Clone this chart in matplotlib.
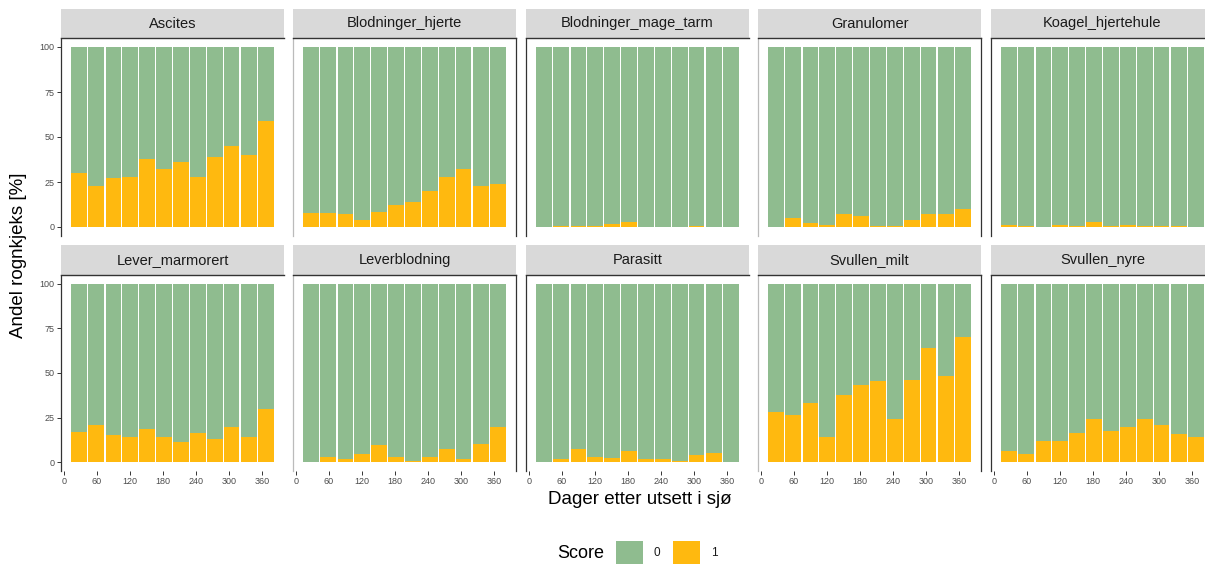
import matplotlib.pyplot as plt
from matplotlib.patches import Rectangle

plt.rcParams["font.family"] = ["Liberation Sans", "DejaVu Sans"]

# days after sea transfer (monthly samples)
days = [28, 59, 90, 120, 151, 182, 212, 243, 274, 304, 335, 366]

panels = [
    "Ascites", "Blodninger_hjerte", "Blodninger_mage_tarm", "Granulomer", "Koagel_hjertehule",
    "Lever_marmorert", "Leverblodning", "Parasitt", "Svullen_milt", "Svullen_nyre",
]

# percent of fish with score 1 per sampling
ascites = [30, 23, 27, 28, 38, 32, 36, 28, 39, 45, 40, 59]
blod_hjerte = [8, 8, 7.5, 4, 8.5, 12, 14, 20, 28, 32, 23, 24]
blod_mage_tarm = [0, 0.5, 0.8, 0.5, 1.8, 3, 0, 0, 0, 0.8, 0, 0]
granulomer = [0, 5.2, 2, 1.3, 7, 6, 0.6, 0.6, 4, 7.5, 7.5, 10]
koagel = [1.3, 0.6, 0, 1.3, 0.8, 3, 0.4, 1.3, 0.8, 0.6, 0.6, 0]
lever_marm = [17, 21, 15, 14, 18.5, 14, 11.5, 16.5, 13, 19.5, 14, 30]
leverblod = [0, 3, 1.7, 4.8, 9.7, 2.8, 0.6, 2.8, 7.2, 1.7, 10.4, 19.5]
parasitt = [0, 1.7, 7.4, 2.8, 2.4, 6, 1.5, 1.5, 0.6, 3.9, 5, 0]
svullen_milt = [28.3, 26.4, 33, 14, 37.5, 43.3, 45.4, 24.2, 46.3, 64.3, 48.5, 70]
svullen_nyre = [6.1, 4.8, 11.9, 11.9, 16.4, 24.3, 17.3, 19.7, 24.2, 20.6, 15.6, 14]

score1 = [ascites, blod_hjerte, blod_mage_tarm, granulomer, koagel,
          lever_marm, leverblod, parasitt, svullen_milt, svullen_nyre]

x_ticks = [0, 60, 120, 180, 240, 300, 360]
y_ticks = [0, 25, 50, 75, 100]

GREEN = "#8FBC8F"
ORANGE = "#FFB90F"
STRIP = "#D9D9D9"

W, H = 1205, 564
fig = plt.figure(figsize=(W / 100, H / 100), dpi=100)


def px_axes(left, top, width, height):
    return fig.add_axes([left / W, 1 - (top + height) / H, width / W, height / H])


lefts = [61, 293, 526, 758, 991]
pw = 223
rows = [(9, 38, 236), (245, 275, 471)]  # strip top, panel top, panel bottom

for i, name in enumerate(panels):
    r, c = divmod(i, 5)
    st, pt, pb = rows[r]
    ax = px_axes(lefts[c], pt, pw, pb - pt)
    s1 = score1[i]
    s0 = [100 - v for v in s1]
    ax.bar(days, s1, width=28.5, color=ORANGE, linewidth=0)
    ax.bar(days, s0, bottom=s1, width=28.5, color=GREEN, linewidth=0)
    ax.set_xlim(-5, 399)
    ax.set_ylim(-5, 105)
    for sp in ["top", "bottom", "right"]:
        ax.spines[sp].set_visible(False)
    if c in (1, 3):
        ax.spines["left"].set_color("#BBBBBB")
        ax.spines["right"].set_visible(True)
        ax.spines["right"].set_color("#333333")
    else:
        ax.spines["left"].set_color("#333333")
    ax.spines["left"].set_linewidth(0.9)
    ax.spines["right"].set_linewidth(0.9)

    ax.set_xticks(x_ticks)
    ax.set_yticks(y_ticks)
    ax.tick_params(axis="both", length=3, width=0.7, color="#333333",
                   labelsize=6.5, labelcolor="#4D4D4D", pad=1.5)
    if c != 0:
        ax.tick_params(axis="y", left=False, labelleft=False)
    if r == 0:
        ax.tick_params(axis="x", bottom=False, labelbottom=False)

    # strip
    sax = px_axes(lefts[c], st, pw, pt - st)
    sax.set_xlim(0, 1)
    sax.set_ylim(0, 1)
    sax.set_facecolor(STRIP)
    sax.set_xticks([])
    sax.set_yticks([])
    for sp in ["top", "left", "right"]:
        sax.spines[sp].set_visible(False)
    sax.spines["bottom"].set_color("#333333")
    sax.spines["bottom"].set_linewidth(1.0)
    sax.text(0.5, 0.5, name, ha="center", va="center", fontsize=10.5, color="#1A1A1A")

# axis titles
fig.text(640 / W, 1 - 500 / H, "Dager etter utsett i sjø", ha="center", va="center",
         fontsize=13.5, color="black")
fig.text(19 / W, 1 - 255 / H, "Andel rognkjeks [%]", ha="center", va="center",
         rotation=90, fontsize=13.5, color="black")

# legend
ly = 553
fig.text(581 / W, 1 - ly / H, "Score", ha="center", va="center", fontsize=13, color="black")
for x0, col, lab in [(616, GREEN, "0"), (673, ORANGE, "1")]:
    fig.add_artist(Rectangle((x0 / W, 1 - (ly + 12) / H), 27 / W, 24 / H,
                             transform=fig.transFigure, facecolor=col, edgecolor="none"))
    fig.text((x0 + 41) / W, 1 - ly / H, lab, ha="center", va="center", fontsize=8.5,
             color="#1A1A1A")

fig.savefig("out.png", dpi=100)
